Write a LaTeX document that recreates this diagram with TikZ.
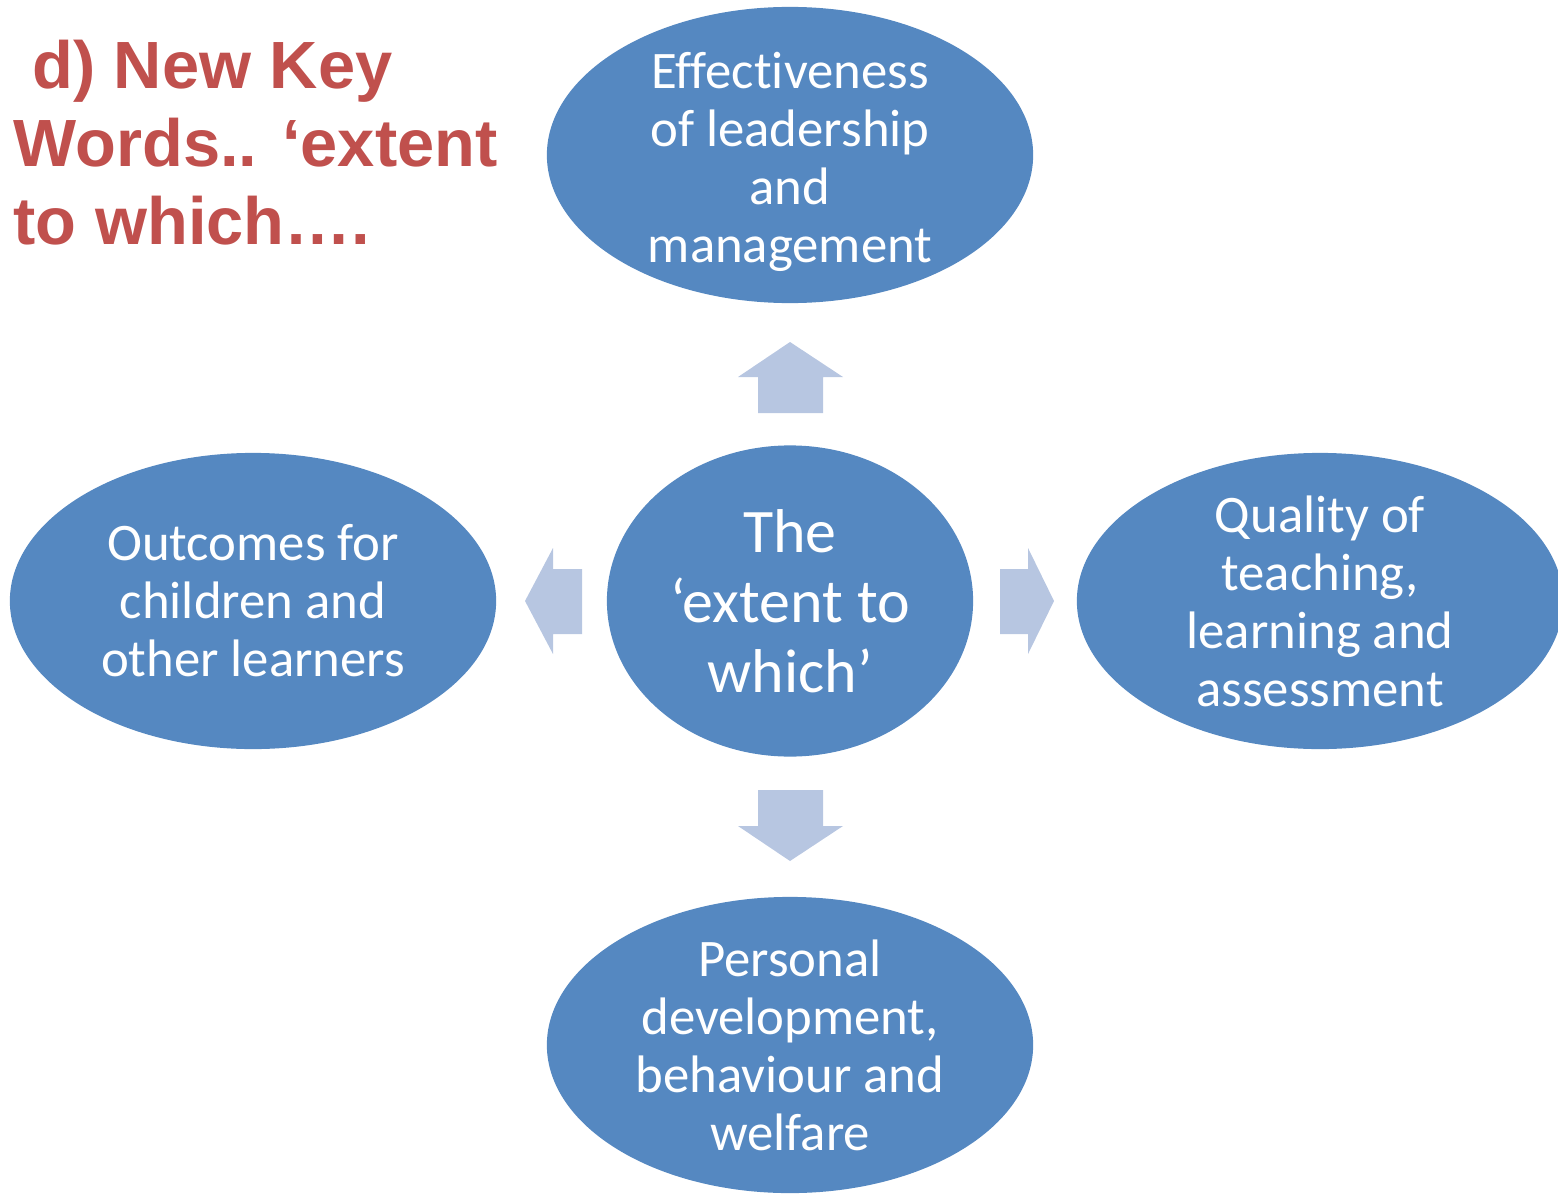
\documentclass[tikz,border=0pt]{standalone}
\usepackage{fontspec}
\setmainfont{Carlito}[Ligatures=CommonOff]
\newfontfamily\titlefont{Liberation Sans}
\usetikzlibrary{shapes.geometric}
\definecolor{ovalblue}{RGB}{85,136,193}
\definecolor{arrowblue}{RGB}{183,198,225}
\definecolor{titlered}{RGB}{192,80,77}
\tikzset{
  oval/.style={ellipse, fill=ovalblue, inner sep=0pt, minimum width=4.86cm, minimum height=2.96cm},
  ovaltext/.style={text=white, align=center, inner sep=0pt, font=\fontsize{15}{16.5}\selectfont},
  blockarrow/.style={fill=arrowblue}
}
\begin{document}
\begin{tikzpicture}[x=0.01cm, y=-0.01cm]
            \useasboundingbox (0,0) rectangle (1558,1194);
            % title
            \node[anchor=north west, inner sep=0pt, align=left, text=titlered, font=\titlefont\bfseries\fontsize{19}{22.2}\selectfont] (title) at (13,39) {~d) New Key\\Words.. ‘extent\\to which….};
            % ovals
            \node[oval] (lead) at (790,155) {};
            \node[ovaltext] (leadtext) at ([yshift=-2pt]lead) {Effectiveness\\of leadership\\and\\management};
            \node[oval, minimum width=3.66cm, minimum height=3.11cm] (extent) at (790,601) {};
            \node[ovaltext, font=\fontsize{17.6}{19.9}\selectfont] (extenttext) at (extent) {The\\‘extent to\\which’};
            \node[oval] (outcomes) at (253,601) {};
            \node[ovaltext] (outcomestext) at (outcomes) {Outcomes for\\children and\\other learners};
            \node[oval] (teaching) at (1320,601) {};
            \node[ovaltext] (teachingtext) at (teaching) {Quality of\\teaching,\\learning and\\assessment};
            \node[oval] (personal) at (790,1045) {};
            \node[ovaltext] (personaltext) at (personal) {Personal\\development,\\behaviour and\\welfare};
            % block arrows
            \fill[blockarrow] (790,342) -- (843,377) -- (823,377) -- (823,413) -- (758,413) -- (758,377) -- (738,377) -- cycle;
            \fill[blockarrow] (758,790) -- (823,790) -- (823,826) -- (843,826) -- (790,861) -- (738,826) -- (758,826) -- cycle;
            \fill[blockarrow] (525,601) -- (553,548) -- (553,569) -- (582,569) -- (582,634) -- (553,634) -- (553,654) -- cycle;
            \fill[blockarrow] (1000,569) -- (1028,569) -- (1028,548) -- (1054,601) -- (1028,654) -- (1028,634) -- (1000,634) -- cycle;
        \end{tikzpicture}
\end{document}
